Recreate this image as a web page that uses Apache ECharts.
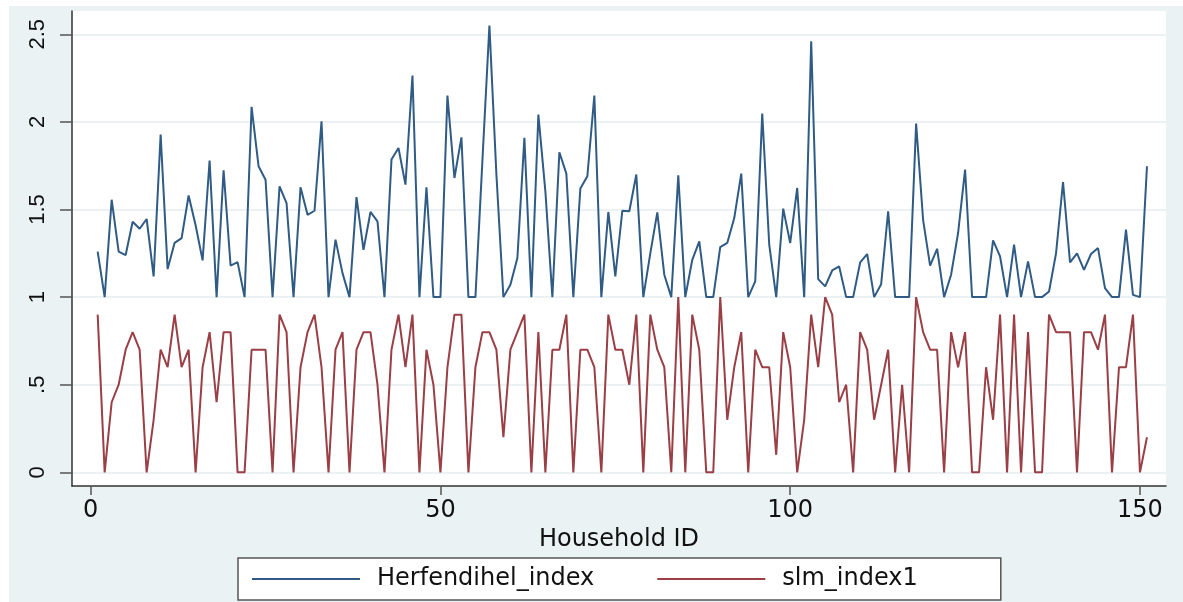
<!DOCTYPE html>
<html>
<head>
<meta charset="utf-8">
<script src="https://cdn.jsdelivr.net/npm/echarts@6/dist/echarts.min.js"></script>
<style>
  html, body { margin: 0; padding: 0; background: #ffffff; }
  #wrap { position: relative; width: 1183px; height: 602px; background: #ffffff; overflow: hidden; }
  #bg { position: absolute; left: 9px; top: 6px; right: 0; bottom: 0; background: #eaf2f3; }
  #chart { position: absolute; left: 0; top: 0; width: 1183px; height: 602px; }
</style>
</head>
<body>
<div id="wrap"><div id="bg"></div><div id="chart"></div></div>
<script>
// Household IDs 1..151
const householdIds = Array.from({ length: 151 }, (_, i) => i + 1);

const herfendihelIndex = [
  1.26, 1.0, 1.556, 1.26, 1.24, 1.43, 1.39, 1.446, 1.118, 1.928,
  1.16, 1.31, 1.337, 1.58, 1.41, 1.21, 1.78, 1.0, 1.724, 1.18,
  1.20, 1.0, 2.086, 1.747, 1.67, 1.0, 1.632, 1.537, 1.0, 1.627,
  1.47, 1.493, 2.004, 1.0, 1.328, 1.137, 1.0, 1.571, 1.27, 1.486,
  1.432, 1.0, 1.785, 1.851, 1.642, 2.265, 1.0, 1.627, 1.0, 1.0,
  2.15, 1.68, 1.912, 1.0, 1.0, 1.78, 2.55, 1.7, 1.0, 1.07,
  1.223, 1.909, 1.0, 2.042, 1.604, 1.0, 1.827, 1.705, 1.0, 1.62,
  1.69, 2.15, 1.0, 1.486, 1.118, 1.493, 1.49, 1.70, 1.0, 1.25,
  1.484, 1.128, 1.0, 1.695, 1.0, 1.213, 1.318, 1.0, 1.0, 1.286,
  1.309, 1.451, 1.705, 1.0, 1.09, 2.048, 1.3, 1.0, 1.505, 1.309,
  1.623, 1.0, 2.46, 1.103, 1.061, 1.152, 1.175, 1.0, 1.0, 1.198,
  1.246, 1.0, 1.074, 1.49, 1.0, 1.0, 1.0, 1.99, 1.44, 1.18,
  1.276, 1.0, 1.128, 1.366, 1.728, 1.0, 1.0, 1.0, 1.324, 1.232,
  1.0, 1.30, 1.0, 1.204, 1.0, 1.0, 1.032, 1.25, 1.657, 1.198,
  1.25, 1.156, 1.246, 1.28, 1.051, 1.0, 1.0, 1.385, 1.013, 1.0,
  1.747
];

const slmIndex1 = [
  0.9, 0, 0.4, 0.5, 0.7, 0.8, 0.7, 0, 0.3, 0.7,
  0.6, 0.9, 0.6, 0.7, 0, 0.6, 0.8, 0.4, 0.8, 0.8,
  0, 0, 0.7, 0.7, 0.7, 0, 0.9, 0.8, 0, 0.6,
  0.8, 0.9, 0.6, 0, 0.7, 0.8, 0, 0.7, 0.8, 0.8,
  0.5, 0, 0.7, 0.9, 0.6, 0.9, 0, 0.7, 0.5, 0,
  0.6, 0.9, 0.9, 0, 0.6, 0.8, 0.8, 0.7, 0.2, 0.7,
  0.8, 0.9, 0, 0.8, 0, 0.7, 0.7, 0.9, 0, 0.7,
  0.7, 0.6, 0, 0.9, 0.7, 0.7, 0.5, 0.9, 0, 0.9,
  0.7, 0.6, 0, 1.0, 0, 0.9, 0.7, 0, 0, 1.0,
  0.3, 0.6, 0.8, 0, 0.7, 0.6, 0.6, 0.1, 0.8, 0.6,
  0, 0.3, 0.9, 0.6, 1.0, 0.9, 0.4, 0.5, 0, 0.8,
  0.7, 0.3, 0.5, 0.7, 0, 0.5, 0, 1.0, 0.8, 0.7,
  0.7, 0, 0.8, 0.6, 0.8, 0, 0, 0.6, 0.3, 0.9,
  0, 0.9, 0, 0.8, 0, 0, 0.9, 0.8, 0.8, 0.8,
  0, 0.8, 0.8, 0.7, 0.9, 0, 0.6, 0.6, 0.9, 0,
  0.2
];

const xTickValues = [0, 50, 100, 150];
const yTickValues = [0, 0.5, 1, 1.5, 2, 2.5];
const yTickLabels = ['0', '.5', '1', '1.5', '2', '2.5'];

const seriesNames = ['Herfendihel_index', 'slm_index1'];

const chart = echarts.init(document.getElementById('chart'), null, { renderer: 'canvas' });

const toPairs = vals => householdIds.map((id, i) => [id, vals[i]]);

chart.setOption({
  animation: false,
  backgroundColor: 'transparent',
  color: ['#2f5b85', '#9a3f45'],
  grid: {
    left: 72, right: 17, top: 11, bottom: 116,
    show: true, backgroundColor: '#ffffff', borderWidth: 0,
    containLabel: false
  },
  xAxis: {
    type: 'value',
    min: -2.67, max: 153.72,
    name: 'Household ID',
    nameLocation: 'middle',
    nameGap: 36,
    nameTextStyle: { fontFamily: 'DejaVu Sans', fontSize: 24, color: '#111' },
    axisLine: { show: true, onZero: false, lineStyle: { color: '#333', width: 1.5 } },
    axisTick: { show: true, length: 9, customValues: xTickValues, lineStyle: { color: '#555', width: 1.5 } },
    axisLabel: {
      customValues: xTickValues,
      margin: 13,
      fontFamily: 'DejaVu Sans', fontSize: 24, color: '#111'
    },
    splitLine: { show: false }
  },
  yAxis: {
    type: 'value',
    min: -0.078, max: 2.633,
    axisLine: { show: true, onZero: false, lineStyle: { color: '#333', width: 1.5 } },
    axisTick: { show: true, length: 12, customValues: yTickValues, lineStyle: { color: '#555', width: 1.5 } },
    axisLabel: {
      customValues: yTickValues,
      rotate: 90,
      margin: 23,
      fontFamily: 'Liberation Sans', fontSize: 22, color: '#111',
      formatter: v => {
        const idx = yTickValues.findIndex(t => Math.abs(t - v) < 1e-9);
        return idx >= 0 ? yTickLabels[idx] : '';
      }
    },
    splitLine: { show: true, lineStyle: { color: '#e6eef0', width: 1.5 } }
  },
  legend: {
    data: seriesNames,
    left: 238, top: 558,
    orient: 'horizontal',
    padding: [8, 83, 8, 14],
    icon: 'rect',
    itemWidth: 108, itemHeight: 2, itemGap: 63,
    backgroundColor: '#ffffff',
    borderColor: '#555', borderWidth: 1.5, borderRadius: 0,
    textStyle: { fontFamily: 'DejaVu Sans', fontSize: 24, color: '#111', lineHeight: 26, padding: [0, 0, 0, 12] }
  },
  series: [
    {
      name: seriesNames[0], type: 'line', data: toPairs(herfendihelIndex),
      symbol: 'none', lineStyle: { width: 2 }
    },
    {
      name: seriesNames[1], type: 'line', data: toPairs(slmIndex1),
      symbol: 'none', lineStyle: { width: 2 }
    }
  ]
});
</script>
</body>
</html>
